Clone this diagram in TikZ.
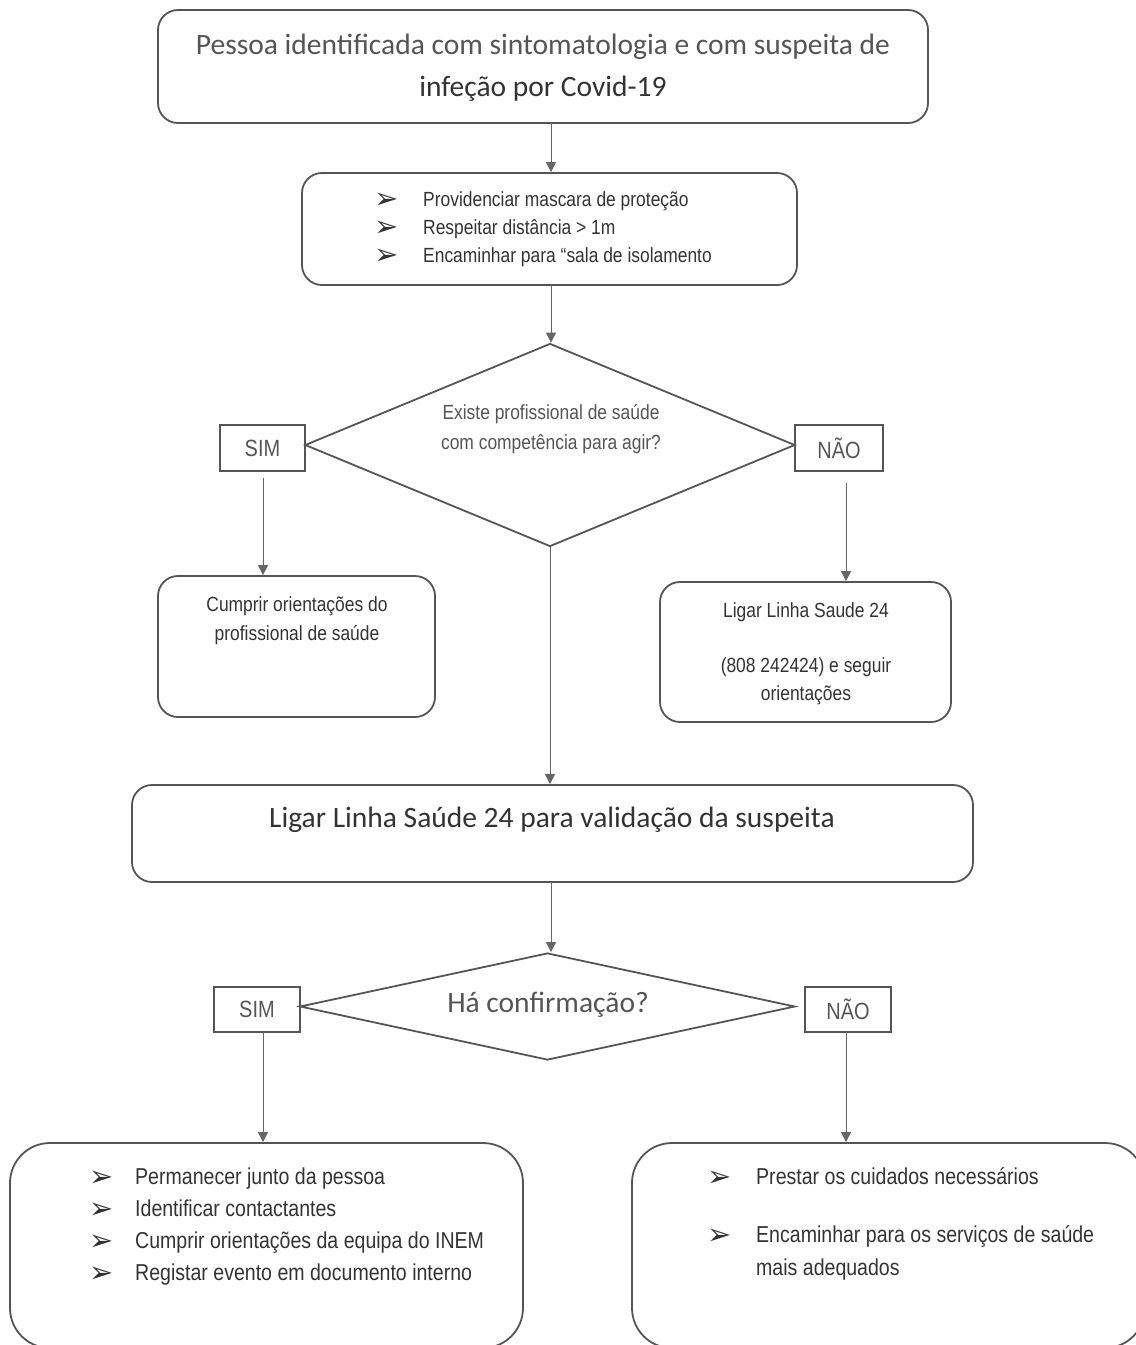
\documentclass[tikz,border=0pt]{standalone}
\usepackage{fontspec}
\setmainfont{Carlito}
\newfontfamily\narrow{Liberation Sans}[FakeStretch=0.85]
\newfontfamily\dv{DejaVu Sans}
\usetikzlibrary{shapes.geometric,arrows.meta}
\definecolor{edge}{HTML}{555555}
\definecolor{txt}{HTML}{333333}
\definecolor{txtl}{HTML}{555555}
\newcommand{\bul}{{\dv\fontsize{29}{29}\selectfont ➢}}
\tikzset{
  rbox/.style={draw=edge, line width=1.8pt, rounded corners=20pt, inner sep=0pt, fill=none},
  sqbox/.style={draw=edge, line width=1.8pt, inner sep=0pt, text=txtl, font=\narrow\fontsize{23.5}{26}\selectfont},
  dia/.style={draw=edge, line width=1.8pt, diamond, inner sep=0pt},
  arr/.style={draw=edge!90, line width=1pt, -{Triangle[width=10pt,length=10pt]}},
  big/.style={text=txt, font=\fontsize{29.5}{32}\selectfont, inner sep=0pt},
  nar/.style={text=txt, font=\narrow\fontsize{20.5}{23}\selectfont, inner sep=0pt, text height=15pt, text depth=4pt},
  narl/.style={text=txt, font=\narrow\fontsize{23}{26}\selectfont, inner sep=0pt, text height=17pt, text depth=5pt},
  bulnode/.style={text=txt, inner sep=0pt, anchor=base west},
}
\begin{document}
\begin{tikzpicture}[x=1pt,y=-1pt]
\useasboundingbox (0,0) rectangle (1136,1345);
% box 1
\node[rbox, minimum width=770pt, minimum height=113pt] (b1) at (543,66.5) {};
\node[big, text=txtl] (t1a) at (543,47) {Pessoa identificada com sintomatologia e com suspeita de};
\node[big] (t1b) at (543,89) {infeção por Covid-19};
% box 2
\node[rbox, minimum width=495pt, minimum height=112pt] (b2) at (549.5,229) {};
\node[bulnode] (l2a) at (374,208) {\bul};
\node[nar, anchor=west] (t2a) at (423,201) {Providenciar mascara de proteção};
\node[bulnode] (l2b) at (374,236) {\bul};
\node[nar, anchor=west] (t2b) at (423,229) {Respeitar distância > 1m};
\node[bulnode] (l2c) at (374,264) {\bul};
\node[nar, anchor=west] (t2c) at (423,257) {Encaminhar para “sala de isolamento};
% diamond 1
\node[dia, minimum width=490pt, minimum height=203pt] (d1) at (550,445) {};
\node[nar, text=txtl, align=center, font=\narrow\fontsize{20.5}{30}\selectfont, text height=, text depth=] (t3) at (551,429) {Existe profissional de saúde\\com competência para agir?};
\node[sqbox, minimum width=85pt, minimum height=46pt] (s1) at (262.5,448) {SIM};
\node[sqbox, minimum width=88pt, minimum height=46pt] (n1) at (839,448) {NÃO};
% side boxes
\node[rbox, minimum width=277pt, minimum height=141pt] (b3) at (296.5,646.5) {};
\node[nar, align=center, font=\narrow\fontsize{20.5}{29}\selectfont, text height=, text depth=] (t4) at (297,620.5) {Cumprir orientações do\\profissional de saúde};
\node[rbox, minimum width=291pt, minimum height=140pt] (b4) at (805.5,652) {};
\node[nar] (t5a) at (806,612) {Ligar Linha Saude 24};
\node[nar, align=center, font=\narrow\fontsize{20.5}{28}\selectfont, text height=, text depth=] (t5b) at (806,681) {(808 242424) e seguir\\orientações};
% box 5
\node[rbox, minimum width=841pt, minimum height=97pt] (b5) at (552.5,833.5) {};
\node[big] (t6) at (552,820) {Ligar Linha Saúde 24 para validação da suspeita};
% diamond 2
\node[dia, minimum width=495pt, minimum height=107pt] (d2) at (547.5,1006.5) {};
\node[big, text=txtl] (t7) at (548,1005) {Há confirmação?};
\node[sqbox, minimum width=86pt, minimum height=45pt] (s2) at (257,1009.5) {SIM};
\node[sqbox, minimum width=86pt, minimum height=45pt] (n2) at (848,1009.5) {NÃO};
% bottom boxes
\node[rbox, rounded corners=40pt, minimum width=513pt, minimum height=205pt] (b6) at (266.5,1245.5) {};
\node[bulnode] (l6a) at (89,1186) {\bul};
\node[narl, anchor=west] (t6a) at (135,1178) {Permanecer junto da pessoa};
\node[bulnode] (l6b) at (89,1218) {\bul};
\node[narl, anchor=west] (t6b) at (135,1210) {Identificar contactantes};
\node[bulnode] (l6c) at (89,1250) {\bul};
\node[narl, anchor=west] (t6c) at (135,1242) {Cumprir orientações da equipa do INEM};
\node[bulnode] (l6d) at (89,1282) {\bul};
\node[narl, anchor=west] (t6d) at (135,1274) {Registar evento em documento interno};
\node[rbox, rounded corners=40pt, minimum width=513pt, minimum height=205pt] (b7) at (888.5,1245.5) {};
\node[bulnode] (l7a) at (707,1186) {\bul};
\node[narl, anchor=west] (t7a) at (756,1178) {Prestar os cuidados necessários};
\node[bulnode] (l7b) at (707,1244) {\bul};
\node[narl, anchor=west] (t7b) at (756,1236) {Encaminhar para os serviços de saúde};
\node[narl, anchor=west] (t7c) at (756,1269) {mais adequados};
% connectors
\coordinate (c1) at (551,123);
\draw[arr] (c1) -- (c1 |- b2.north);
\coordinate (c2) at (551,285);
\draw[arr] (c2) -- (c2 |- d1.north);
\coordinate (c3) at (263,478);
\draw[arr] (c3) -- (c3 |- b3.north);
\coordinate (c4) at (846,483);
\draw[arr] (c4) -- (c4 |- b4.north);
\draw[arr] (d1.south) -- (d1.south |- b5.north);
\coordinate (c5) at (551,882);
\draw[arr] (c5) -- (c5 |- d2.north);
\coordinate (c6) at (263,1032);
\draw[arr] (c6) -- (c6 |- b6.north);
\coordinate (c7) at (846,1032);
\draw[arr] (c7) -- (c7 |- b7.north);
\end{tikzpicture}
\end{document}
